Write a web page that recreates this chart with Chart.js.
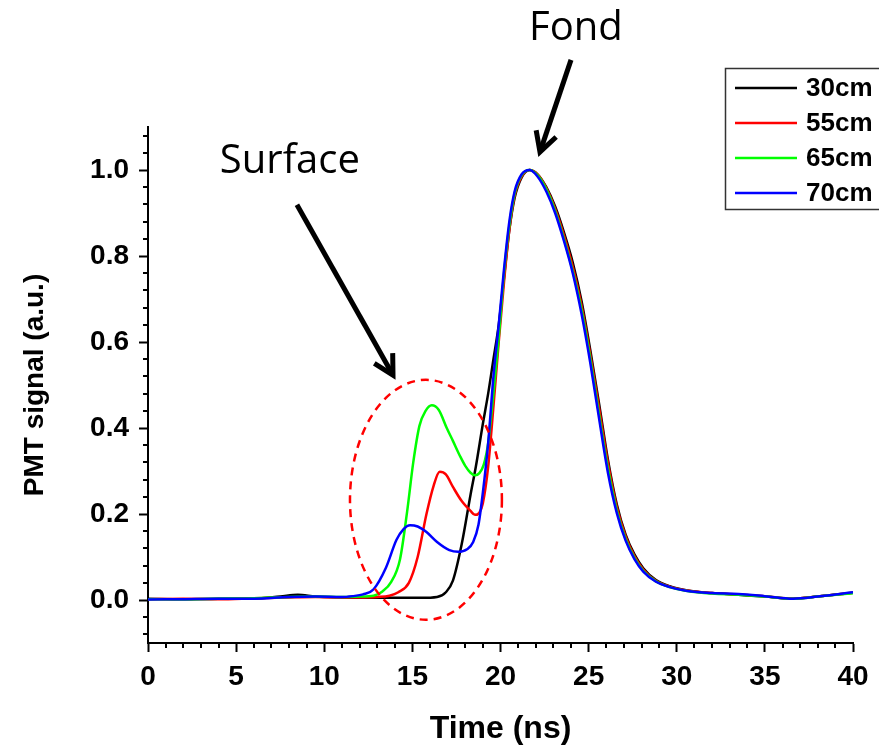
<!DOCTYPE html>
<html>
<head>
<meta charset="utf-8">
<script src="https://cdn.jsdelivr.net/npm/chart.js@4/dist/chart.umd.min.js"></script>
<style>
  body { margin: 0; background: #fff; }
  #wrap { width: 879px; height: 748px; }
</style>
</head>
<body>
<div id="wrap"><canvas id="chart" width="879" height="748"></canvas></div>
<script>
// series labels and colours
const seriesLabels = ["30cm", "55cm", "65cm", "70cm"];
const seriesColors = ["#000000", "#ff0000", "#00ff00", "#0000ff"];

// 30cm
const time30 = [0, 2, 4, 6, 7.5, 8.5, 9.5, 11, 12.5, 14, 15.5, 16.4, 16.9, 17.3, 17.8, 18.3, 18.6, 19.0, 19.3, 19.6,
    19.9, 20.2, 20.5, 20.8, 21.2, 21.65, 22.1, 22.6, 23.1, 23.6, 24.1, 24.6, 25.1, 25.6, 26.1, 26.6, 27.1, 27.6, 28.1, 28.8,
    29.6, 30.6, 32.0, 33.5, 35.0, 36.6, 38.0, 40];
const signal30 = [0.003, 0.002, 0.003, 0.003, 0.008, 0.012, 0.008, 0.006, 0.005, 0.005, 0.005, 0.007, 0.018, 0.045, 0.13, 0.245, 0.31, 0.41, 0.48, 0.56,
    0.64, 0.75, 0.86, 0.935, 0.983, 1.0, 0.99, 0.96, 0.915, 0.855, 0.785, 0.695, 0.58, 0.455, 0.325, 0.222, 0.152, 0.106, 0.074, 0.047,
    0.032, 0.022, 0.016, 0.012, 0.008, 0.003, 0.008, 0.017];

// 55cm
const time55 = [0, 2, 4, 6, 8, 9.5, 11, 12, 13, 13.7, 14.2, 14.8, 15.3, 15.8, 16.2, 16.55, 16.9, 17.3, 17.8, 18.3,
    18.55, 18.8, 19.0, 19.3, 19.6, 19.9,
    20.2, 20.5, 20.8, 21.2, 21.65, 22.1, 22.6, 23.1, 23.6, 24.1, 24.6, 25.1, 25.6, 26.1, 26.6, 27.1, 27.6, 28.1, 28.8,
    29.6, 30.6, 32.0, 33.5, 35.0, 36.6, 38.0, 40];
const signal55 = [0.002, 0.003, 0.002, 0.004, 0.006, 0.007, 0.006, 0.006, 0.007, 0.01, 0.018, 0.04, 0.10, 0.20, 0.265, 0.298, 0.292, 0.263, 0.23, 0.207,
    0.198, 0.203, 0.225, 0.31, 0.45, 0.60,
    0.74, 0.86, 0.94, 0.985, 1.0, 0.99, 0.958, 0.91, 0.848, 0.775, 0.685, 0.57, 0.445, 0.318, 0.216, 0.148, 0.102, 0.071, 0.045,
    0.031, 0.022, 0.016, 0.013, 0.009, 0.003, 0.008, 0.017];

// 65cm
const time65 = [0, 2, 4, 6, 8, 9.5, 11, 12, 12.8, 13.3, 13.8, 14.3, 14.7, 15.05, 15.4, 15.75, 16.1, 16.5, 16.95, 17.3,
    17.7, 18.0, 18.3, 18.55, 18.8, 19.05, 19.3, 19.6, 19.9,
    20.2, 20.5, 20.8, 21.2, 21.65, 22.1, 22.6, 23.1, 23.6, 24.1, 24.6, 25.1, 25.6, 26.1, 26.6, 27.1, 27.6, 28.1, 28.8,
    29.6, 30.6, 32.0, 33.5, 35.0, 36.6, 38.0, 40];
const signal65 = [0.002, 0.002, 0.003, 0.004, 0.007, 0.008, 0.007, 0.008, 0.01, 0.02, 0.042, 0.095, 0.205, 0.32, 0.405, 0.44, 0.453, 0.442, 0.40, 0.37,
    0.335, 0.312, 0.296, 0.29, 0.295, 0.315, 0.365, 0.48, 0.61,
    0.76, 0.87, 0.945, 0.988, 1.0, 0.988, 0.955, 0.905, 0.84, 0.765, 0.675, 0.56, 0.43, 0.305, 0.208, 0.142, 0.098, 0.068, 0.044,
    0.03, 0.021, 0.015, 0.012, 0.008, 0.003, 0.008, 0.016];

// 70cm
const time70 = [0, 2, 4, 6, 8, 9.5, 11, 11.6, 12.2, 12.8, 13.5, 14.1, 14.5, 14.87, 15.3, 15.8, 16.4, 17.1, 17.6, 18.1,
    18.45, 18.75, 19.0, 19.3, 19.6, 19.9,
    20.2, 20.5, 20.8, 21.2, 21.65, 22.1, 22.6, 23.1, 23.6, 24.1, 24.6, 25.1, 25.6, 26.1, 26.6, 27.1, 27.6, 28.1, 28.8,
    29.6, 30.6, 32.0, 33.5, 35.0, 36.6, 38.0, 40];
const signal70 = [0.001, 0.002, 0.003, 0.003, 0.007, 0.008, 0.007, 0.009, 0.013, 0.025, 0.075, 0.14, 0.165, 0.174, 0.171, 0.158, 0.135, 0.116, 0.112, 0.118,
    0.135, 0.175, 0.25, 0.365, 0.52, 0.64,
    0.77, 0.88, 0.95, 0.99, 1.0, 0.985, 0.95, 0.9, 0.835, 0.76, 0.665, 0.55, 0.42, 0.295, 0.202, 0.138, 0.095, 0.066, 0.043,
    0.03, 0.021, 0.016, 0.014, 0.009, 0.003, 0.008, 0.018];

// axis ticks
const xTickValues = [0, 5, 10, 15, 20, 25, 30, 35, 40];
const yTickValues = [0, 0.2, 0.4, 0.6, 0.8, 1.0];

const seriesTimes = [time30, time55, time65, time70];
const seriesSignals = [signal30, signal55, signal65, signal70];

const labelFont = "'Liberation Sans', Arial, sans-serif";
const noteFont = "'Open Sans', 'Noto Sans', sans-serif";

function toPoints(xs, ys) {
    return xs.map((x, i) => ({ x: x, y: ys[i] }));
}

// annotations, in data coordinates
const notes = {
    ellipse: { x: 15.77, y: 0.233, rx: 4.31, ry: 0.279 },
    fondText: { x: 24.28, y: 1.302, text: "Fond" },
    fondArrow: { from: [24.0, 1.256], to: [22.24, 1.042] },
    surfaceText: { x: 8.05, y: 0.993, text: "Surface" },
    surfaceArrow: { from: [8.45, 0.919], to: [13.9, 0.523] }
};

function drawArrow(ctx, x0, y0, x1, y1) {
    const ang = Math.atan2(y1 - y0, x1 - x0);
    const head = 22;
    ctx.save();
    ctx.strokeStyle = "#000";
    ctx.lineWidth = 5;
    ctx.lineCap = "butt";
    ctx.lineJoin = "miter";
    ctx.beginPath();
    ctx.moveTo(x0, y0);
    ctx.lineTo(x1 - Math.cos(ang) * 3, y1 - Math.sin(ang) * 3);
    ctx.stroke();
    ctx.beginPath();
    ctx.moveTo(x1 - head * Math.cos(ang - 0.5), y1 - head * Math.sin(ang - 0.5));
    ctx.lineTo(x1, y1);
    ctx.lineTo(x1 - head * Math.cos(ang + 0.5), y1 - head * Math.sin(ang + 0.5));
    ctx.stroke();
    ctx.restore();
}

const decorPlugin = {
    id: "decor",
    afterDraw(chart) {
        const ctx = chart.ctx;
        const xs = chart.scales.x;
        const ys = chart.scales.y;
        const area = chart.chartArea;

        // minor ticks
        ctx.save();
        ctx.strokeStyle = "#000";
        ctx.lineWidth = 2;
        ctx.beginPath();
        for (let v = 1; v < 40; v++) {
            if (v % 5 === 0) continue;
            const px = Math.round(xs.getPixelForValue(v));
            ctx.moveTo(px, area.bottom);
            ctx.lineTo(px, area.bottom + 5);
        }
        for (let k = -2; k <= 27; k++) {
            if (k % 5 === 0) continue;
            const py = Math.round(ys.getPixelForValue(k * 0.04));
            ctx.moveTo(area.left, py);
            ctx.lineTo(area.left - 5, py);
        }
        ctx.stroke();
        ctx.restore();

        // dashed ellipse around the surface peaks
        const e = notes.ellipse;
        const cx = xs.getPixelForValue(e.x);
        const cy = ys.getPixelForValue(e.y);
        const rx = xs.getPixelForValue(e.x + e.rx) - cx;
        const ry = cy - ys.getPixelForValue(e.y + e.ry);
        ctx.save();
        ctx.strokeStyle = "#ff0000";
        ctx.lineWidth = 2.5;
        ctx.setLineDash([8, 6]);
        ctx.beginPath();
        ctx.ellipse(cx, cy, rx, ry, 0, 0, Math.PI * 2);
        ctx.stroke();
        ctx.restore();

        // arrows
        [notes.fondArrow, notes.surfaceArrow].forEach(a => {
            drawArrow(ctx,
                xs.getPixelForValue(a.from[0]), ys.getPixelForValue(a.from[1]),
                xs.getPixelForValue(a.to[0]), ys.getPixelForValue(a.to[1]));
        });

        // labels
        ctx.save();
        ctx.fillStyle = "#000";
        ctx.font = "40px " + noteFont;
        ctx.textAlign = "center";
        ctx.textBaseline = "alphabetic";
        [notes.fondText, notes.surfaceText].forEach(t => {
            ctx.fillText(t.text, xs.getPixelForValue(t.x), ys.getPixelForValue(t.y));
        });
        ctx.restore();

        // legend box
        ctx.save();
        ctx.strokeStyle = "#333";
        ctx.lineWidth = 1.5;
        ctx.strokeRect(725.5, 68.5, 200, 141);
        ctx.font = "bold 26px " + labelFont;
        ctx.textBaseline = "middle";
        ctx.textAlign = "left";
        chart.data.datasets.forEach((ds, i) => {
            const y = 88 + i * 35;
            ctx.strokeStyle = ds.borderColor;
            ctx.lineWidth = 2.5;
            ctx.beginPath();
            ctx.moveTo(735, y);
            ctx.lineTo(797, y);
            ctx.stroke();
            ctx.fillStyle = "#000";
            ctx.fillText(ds.label, 806, y + 1);
        });
        ctx.restore();
    }
};

const datasets = seriesLabels.map((label, i) => ({
    label: label,
    data: toPoints(seriesTimes[i], seriesSignals[i]),
    borderColor: seriesColors[i],
    backgroundColor: seriesColors[i],
    borderWidth: 2.5,
    pointRadius: 0,
    cubicInterpolationMode: "monotone",
    fill: false,
    order: seriesLabels.length - i
}));

const ctx = document.getElementById("chart").getContext("2d");
new Chart(ctx, {
    type: "line",
    data: { datasets: datasets },
    options: {
        responsive: false,
        animation: false,
        devicePixelRatio: 1,
        layout: { padding: { left: 0, right: 26, top: 127, bottom: 0 } },
        plugins: {
            legend: { display: false },
            tooltip: { enabled: false }
        },
        scales: {
            x: {
                type: "linear",
                min: 0,
                max: 40,
                afterFit: s => { s.height = 105; },
                afterBuildTicks: s => { s.ticks = xTickValues.map(v => ({ value: v })); },
                border: { display: true, color: "#000", width: 2 },
                grid: { drawOnChartArea: false, drawTicks: true, tickLength: 9, tickWidth: 2, tickColor: "#000" },
                ticks: {
                    autoSkip: false,
                    maxRotation: 0,
                    padding: 8,
                    color: "#000",
                    font: { family: labelFont, size: 28, weight: "bold" }
                },
                title: {
                    display: true,
                    text: "Time (ns)",
                    color: "#000",
                    padding: { top: 0, bottom: 0 },
                    font: { family: labelFont, size: 32, weight: "bold" }
                }
            },
            y: {
                type: "linear",
                min: -0.1,
                max: 1.1,
                afterFit: s => { s.width = 148; },
                afterBuildTicks: s => { s.ticks = yTickValues.map(v => ({ value: v })); },
                border: { display: true, color: "#000", width: 2 },
                grid: { drawOnChartArea: false, drawTicks: true, tickLength: 9, tickWidth: 2, tickColor: "#000" },
                ticks: {
                    padding: 10,
                    color: "#000",
                    font: { family: labelFont, size: 28, weight: "bold" },
                    callback: v => v.toFixed(1)
                },
                title: {
                    display: true,
                    text: "PMT signal (a.u.)",
                    color: "#000",
                    padding: { top: 18, bottom: 0 },
                    font: { family: labelFont, size: 28, weight: "bold" }
                }
            }
        }
    },
    plugins: [decorPlugin]
});
</script>
</body>
</html>
